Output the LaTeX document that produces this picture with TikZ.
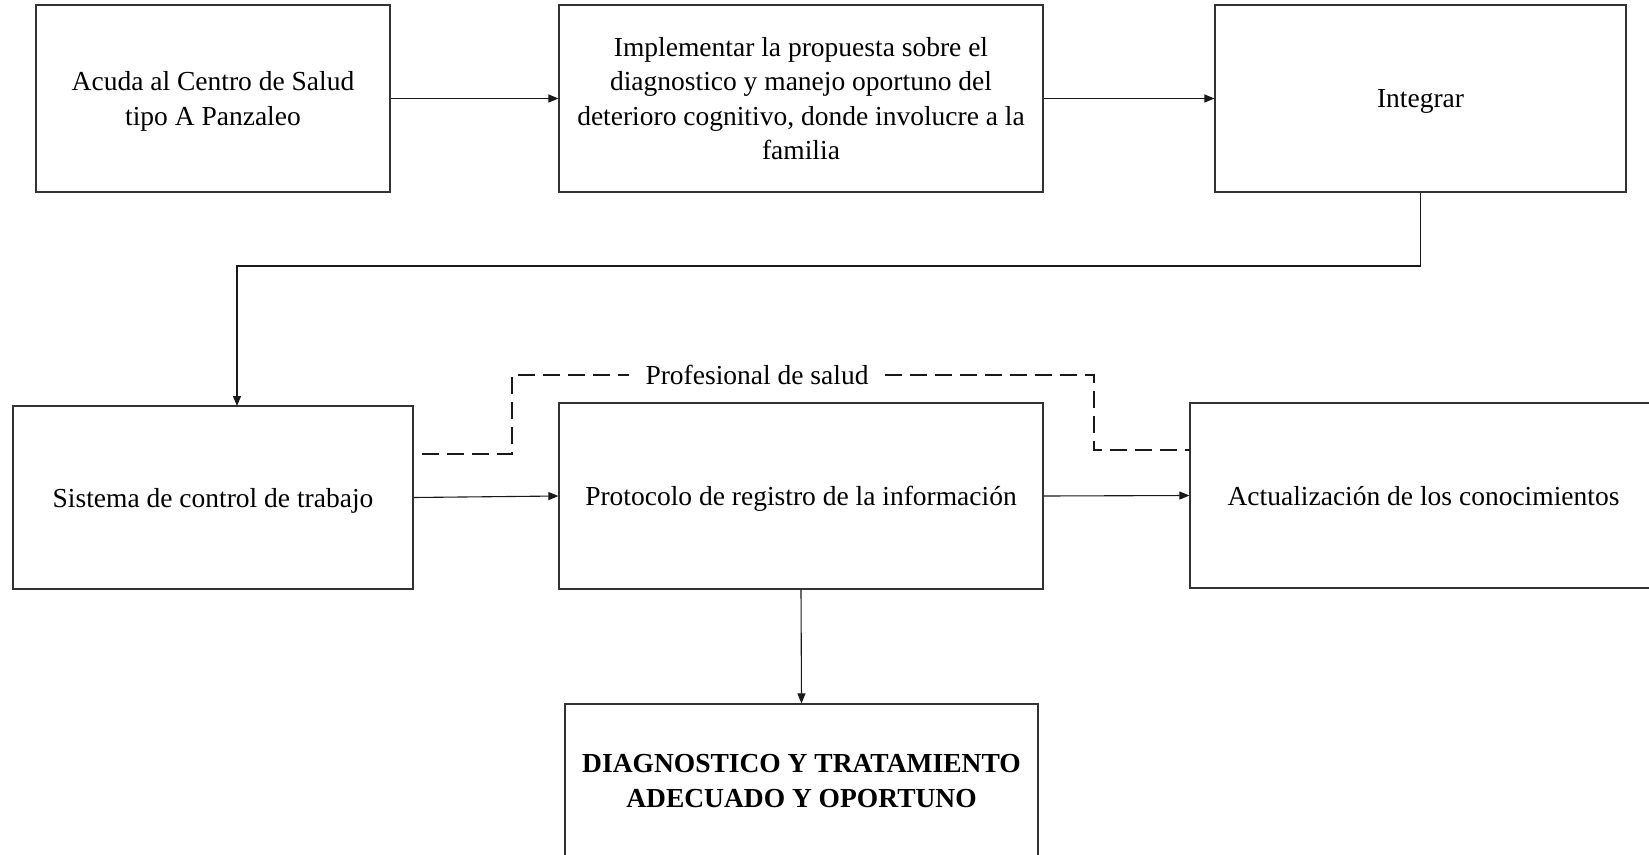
\documentclass[tikz,border=0pt]{standalone}
\usepackage{fontspec}
\setmainfont{Liberation Serif}
\usetikzlibrary{arrows.meta}
\begin{document}
\begin{tikzpicture}[x=1pt,y=-1pt,
  box/.style={draw=black!80,line width=1.2pt,inner sep=0pt,align=center,text depth=0pt,
    font=\fontsize{27.5}{34.3}\selectfont},
  conn/.style={line width=1.1pt,black!90},
  arr/.style={conn,-{Triangle[length=10pt,width=8pt]}},
  dsh/.style={line width=1.1pt,black!90,dash pattern=on 17pt off 8pt},
  lbl/.style={inner xsep=16pt,inner ysep=2pt,font=\fontsize{27.5}{34.3}\selectfont}]
\useasboundingbox (0,0) rectangle (1649,854);
\fill[white] (0,0) rectangle (1649,854);

\node[box,minimum width=354pt,minimum height=187pt] (b1) at (213,98.5)
  {Acuda al Centro de Salud\\tipo A Panzaleo};
\node[box,minimum width=484pt,minimum height=187pt] (b2) at (801,98.5)
  {Implementar la propuesta sobre el\\diagnostico y manejo oportuno del\\deterioro cognitivo, donde involucre a la\\familia};
\node[box,minimum width=411pt,minimum height=187pt] (b3) at (1420.5,98.5)
  {Integrar};

\node[box,minimum width=400pt,minimum height=183pt] (b4) at (213,497.5)
  {Sistema de control de trabajo};
\node[box,minimum width=484pt,minimum height=186pt] (b5) at (801,496)
  {Protocolo de registro de la información};
\node[box,minimum width=467pt,minimum height=185pt] (b6) at (1423.5,495.5)
  {Actualización de los conocimientos};

\node[box,minimum width=473pt,minimum height=154pt] (b7) at (801.5,781)
  {\bfseries DIAGNOSTICO Y TRATAMIENTO\\\bfseries ADECUADO Y OPORTUNO};

\draw[arr] (b1.east) -- (b2.west);
\draw[arr] (b2.east) -- (b3.west);
\coordinate (turn) at (1420.5,266);
\coordinate (drop) at (237,406);
\draw[arr] (b3.south) -- (turn) -| (drop);
\draw[arr] (b4.east) -- (b5.west);
\draw[arr] (b5.east) -- (b6.west);
\draw[arr] (b5.south) -- (b7.north);

\node[lbl] (prof) at (757,375) {Profesional de salud};
\coordinate (dstart) at (422,454);
\coordinate (dend) at (1190,450);
\draw[dsh] (dstart) -- (512,454) -- (512,375) -- (prof.west);
\draw[dsh] (prof.east) -- (1094,375) -- (1094,450) -- (dend);
\end{tikzpicture}
\end{document}
